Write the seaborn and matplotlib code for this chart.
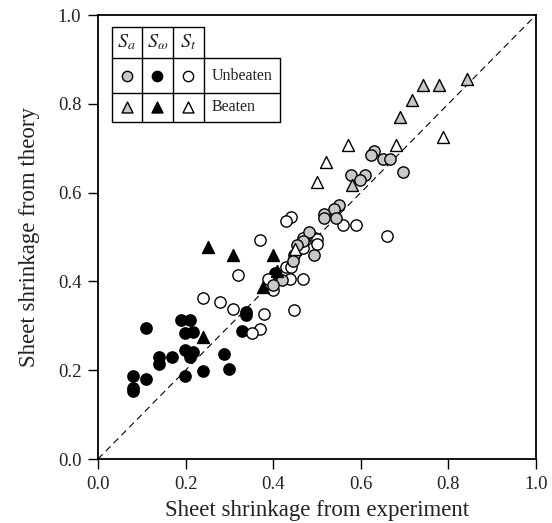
import matplotlib
matplotlib.use("Agg")
import matplotlib.pyplot as plt
import seaborn as sns
import pandas as pd

sns.set_theme(style="white")
plt.rcParams['font.family'] = ['Liberation Serif', 'DejaVu Serif']
plt.rcParams['mathtext.fontset'] = 'stix'

# S_a unbeaten (gray circles)
sa_unb_x = [0.630, 0.623, 0.651, 0.667, 0.697, 0.577, 0.610, 0.598, 0.551, 0.539, 0.516,
            0.516, 0.543, 0.482, 0.467, 0.454, 0.447, 0.446, 0.494, 0.419, 0.400]
sa_unb_y = [0.694, 0.685, 0.675, 0.675, 0.647, 0.640, 0.640, 0.628, 0.572, 0.562, 0.552,
            0.542, 0.542, 0.512, 0.492, 0.482, 0.459, 0.447, 0.459, 0.403, 0.392]
# S_omega unbeaten (black circles)
sw_unb_x = [0.110, 0.189, 0.209, 0.199, 0.218, 0.199, 0.218, 0.210, 0.140, 0.140, 0.169,
            0.288, 0.300, 0.239, 0.199, 0.079, 0.110, 0.079, 0.079, 0.338, 0.338, 0.329, 0.405]
sw_unb_y = [0.295, 0.313, 0.313, 0.284, 0.287, 0.245, 0.242, 0.230, 0.230, 0.215, 0.230,
            0.236, 0.203, 0.198, 0.187, 0.187, 0.180, 0.159, 0.154, 0.324, 0.330, 0.289, 0.420]
# S_t unbeaten (white circles)
st_unb_x = [0.559, 0.589, 0.659, 0.495, 0.469, 0.440, 0.429, 0.370, 0.499, 0.499, 0.469,
            0.429, 0.440, 0.389, 0.438, 0.469, 0.399, 0.448, 0.379, 0.370, 0.351, 0.320,
            0.240, 0.279, 0.309]
st_unb_y = [0.527, 0.527, 0.502, 0.497, 0.497, 0.546, 0.537, 0.493, 0.495, 0.484, 0.475,
            0.433, 0.432, 0.405, 0.405, 0.405, 0.381, 0.336, 0.327, 0.292, 0.283, 0.414,
            0.362, 0.354, 0.337]
# S_a beaten (gray triangles)
sa_b_x = [0.741, 0.779, 0.716, 0.689, 0.842, 0.581]
sa_b_y = [0.842, 0.842, 0.809, 0.771, 0.855, 0.617]
# S_omega beaten (black triangles)
sw_b_x = [0.250, 0.309, 0.399, 0.409, 0.377, 0.239]
sw_b_y = [0.477, 0.459, 0.459, 0.424, 0.387, 0.275]
# S_t beaten (white triangles)
st_b_x = [0.788, 0.570, 0.680, 0.520, 0.499, 0.450]
st_b_y = [0.726, 0.707, 0.707, 0.670, 0.623, 0.472]

ticks = [0.0, 0.2, 0.4, 0.6, 0.8, 1.0]
tick_labels = ["0.0", "0.2", "0.4", "0.6", "0.8", "1.0"]
xlabel = "Sheet shrinkage from experiment"
ylabel = "Sheet shrinkage from theory"

GRAY = "#c8c8c8"
groups = [
    (sw_unb_x, sw_unb_y, "o", "black"),
    (st_unb_x, st_unb_y, "o", "white"),
    (sa_unb_x, sa_unb_y, "o", GRAY),
    (sw_b_x, sw_b_y, "^", "black"),
    (st_b_x, st_b_y, "^", "white"),
    (sa_b_x, sa_b_y, "^", GRAY),
]

fig = plt.figure(figsize=(5.52, 5.23), dpi=100)
ax = fig.add_axes([98/552, 1 - 459/523, 438/552, 444/523])

ax.plot([0, 1], [0, 1], ls=(0, (6, 4)), color="black", lw=0.8, zorder=1)

for gx, gy, m, c in groups:
    df = pd.DataFrame({"x": gx, "y": gy})
    sns.scatterplot(data=df, x="x", y="y", marker=m, color=c, edgecolor="black",
                    linewidth=1.0, s=66 if m == "o" else 74, ax=ax, zorder=3, legend=False)

ax.set_xlim(0, 1)
ax.set_ylim(0, 1)
ax.set_xticks(ticks)
ax.set_xticklabels(tick_labels)
ax.set_yticks(ticks)
ax.set_yticklabels(tick_labels)
ax.tick_params(axis="both", direction="out", length=7, width=1.0, color="black",
               labelsize=13.5, labelcolor="#222222", bottom=True, left=True, pad=5)
ax.set_xlabel(xlabel, fontsize=16.5, color="#222222", labelpad=5)
ax.set_ylabel(ylabel, fontsize=16.5, color="#222222", labelpad=13)
for sp in ax.spines.values():
    sp.set_color("black")
    sp.set_linewidth(1.3)

# legend table drawn in axes coordinates
def ax_x(px):
    return (px - 98) / 438

def ax_y(py):
    return (459 - py) / 444

T = ax.transAxes
L, C1, C2, C3, R = ax_x(111.7), ax_x(141.7), ax_x(172.7), ax_x(204), ax_x(280)
Y0, Y1, Y2, Y3 = ax_y(27.3), ax_y(58.3), ax_y(92.7), ax_y(121.7)
lk = dict(color="black", lw=1.0, transform=T, clip_on=False, zorder=5)
ax.plot([L, C3], [Y0, Y0], **lk)
ax.plot([L, R], [Y1, Y1], **lk)
ax.plot([L, R], [Y2, Y2], **lk)
ax.plot([L, R], [Y3, Y3], **lk)
ax.plot([L, L], [Y0, Y3], **lk)
ax.plot([C1, C1], [Y0, Y3], **lk)
ax.plot([C2, C2], [Y0, Y3], **lk)
ax.plot([C3, C3], [Y0, Y3], **lk)
ax.plot([R, R], [Y1, Y3], **lk)

cx = [(L + C1) / 2, (C1 + C2) / 2, (C2 + C3) / 2]
headers = [r"$S_a$", r"$S_\omega$", r"$S_t$"]
for x_, h in zip(cx, headers):
    ax.text(x_, (Y0 + Y1) / 2, h, transform=T, ha="center", va="center", fontsize=14.5,
            color="#222222")
row_y = [(Y1 + Y2) / 2, (Y2 + Y3) / 2]
fills = [GRAY, "black", "white"]
for ri, (m, lab) in enumerate([("o", "Unbeaten"), ("^", "Beaten")]):
    for x_, f in zip(cx, fills):
        ax.scatter([x_], [row_y[ri]], marker=m, s=55 if m == "o" else 62, c=f,
                   edgecolors="black", linewidths=1.0, transform=T, zorder=6, clip_on=False)
    ax.text(C3 + 0.018, row_y[ri], lab, transform=T, ha="left", va="center",
            fontsize=11.5, color="#222222")

fig.savefig("out.png", dpi=100)
